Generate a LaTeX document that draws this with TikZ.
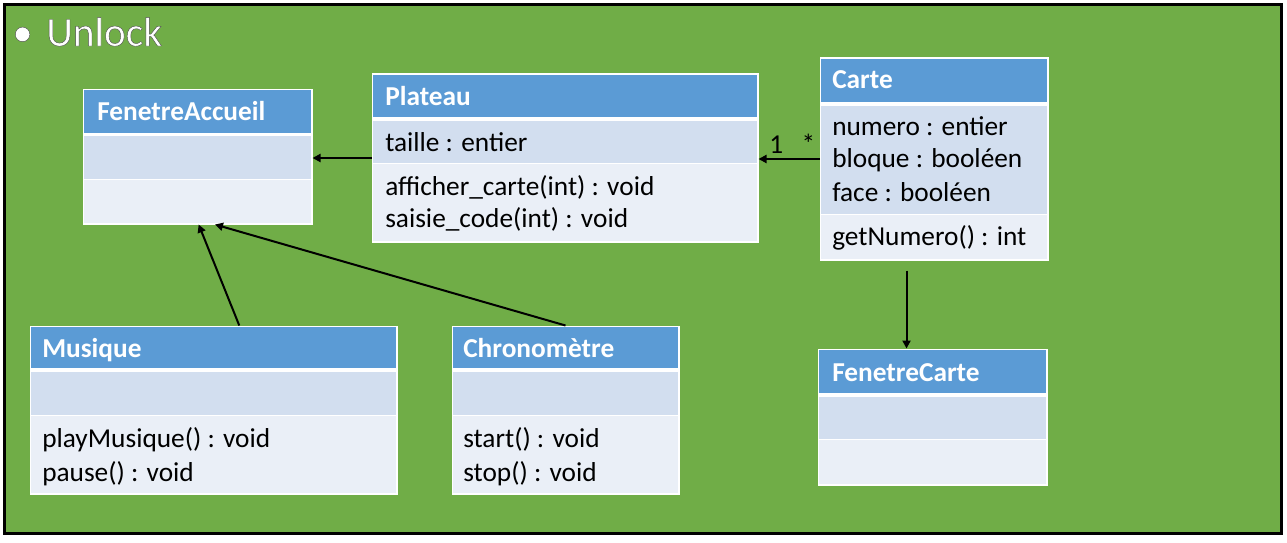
\documentclass[tikz,border=0pt]{standalone}
\usepackage{fontspec}
\setmainfont{Carlito}
\usetikzlibrary{arrows.meta,calc,fit}

\definecolor{bggreen}{HTML}{70AD47}
\definecolor{headblue}{HTML}{5B9BD5}
\definecolor{attrblue}{HTML}{D2DEEF}
\definecolor{methblue}{HTML}{EAEFF7}

% white title letters with a thin grey outline
\newcommand{\outlined}[1]{{\special{pdf:literal direct 0.3 0.3 0.3 RG}\addfontfeature{FakeBold=1}#1}}

\tikzset{
    classbox/.style={draw=white, fill=white, line width=0.75pt, inner sep=0pt},
    headfill/.style={fill=headblue},
    attrfill/.style={fill=attrblue},
    methfill/.style={fill=methblue},
    membertxt/.style={anchor=base west, inner sep=0pt, font=\fontsize{20.5}{24}\selectfont},
    headtxt/.style={membertxt, text=white, font=\fontsize{20.5}{24}\selectfont\bfseries},
    multtxt/.style={font=\fontsize{20.5}{24}\selectfont},
    titletxt/.style={anchor=base west, inner sep=0pt, text=white, font=\fontsize{31}{36}\selectfont},
    assoc/.style={-{Triangle[length=6pt,width=6pt]}, line width=1.5pt},
}

\begin{document}
\begin{tikzpicture}[x=0.75pt, y=-0.75pt]

    \useasboundingbox (0,0) rectangle (1287,542);

    % frame
    \fill[white] (0,0) rectangle (1287,542);
    \draw[fill=bggreen, line width=2.25pt] (4.5,5) rectangle (1281.5,533.5);

    % title
    \node[titletxt] (bullet) at (12,46) {\outlined{\textbullet}};
    \node[titletxt] (title) at (46,46) {\outlined{Unlock}};


    % FenetreAccueil
    \node[classbox, fit={(83,89) (312,224)}] (fenetre_accueil) {};
    \fill[headfill] (84,90) rectangle (311,133);
    \fill[attrfill] (84,136) rectangle (311,179);
    \fill[methfill] (84,180) rectangle (311,223);
    \node[headtxt] (fenetre_accueil_name) at (97,120) {FenetreAccueil};


    % Plateau
    \node[classbox, fit={(372,74) (758,242)}] (plateau) {};
    \fill[headfill] (373,75) rectangle (757,117);
    \fill[attrfill] (373,121) rectangle (757,163);
    \fill[methfill] (373,164) rectangle (757,241);
    \node[headtxt] (plateau_name) at (385,105) {Plateau};
    \node[membertxt] (plateau_taille) at (385,151) {taille : entier};
    \node[membertxt] (plateau_afficher) at (385,195) {afficher\_carte(int) : void};
    \node[membertxt] (plateau_saisie) at (385,227) {saisie\_code(int) : void};


    % Carte
    \node[classbox, fit={(820,58) (1048,260)}] (carte) {};
    \fill[headfill] (821,59) rectangle (1047,102);
    \fill[attrfill] (821,106) rectangle (1047,214);
    \fill[methfill] (821,215) rectangle (1047,259);
    \node[headtxt] (carte_name) at (832,89) {Carte};
    \node[membertxt] (carte_numero) at (832,135) {numero : entier};
    \node[membertxt] (carte_bloque) at (832,167) {bloque : booléen};
    \node[membertxt] (carte_face) at (832,201) {face : booléen};
    \node[membertxt] (carte_get) at (832,245) {getNumero() : int};


    % FenetreCarte
    \node[classbox, fit={(818,349) (1047,485)}] (fenetre_carte) {};
    \fill[headfill] (819,350) rectangle (1046,393);
    \fill[attrfill] (819,397) rectangle (1046,439);
    \fill[methfill] (819,440) rectangle (1046,484);
    \node[headtxt] (fenetre_carte_name) at (832,381) {FenetreCarte};


    % Musique
    \node[classbox, fit={(30,326) (397,494)}] (musique) {};
    \fill[headfill] (31,327) rectangle (396,368);
    \fill[attrfill] (31,372) rectangle (396,415);
    \fill[methfill] (31,416) rectangle (396,493);
    \node[headtxt] (musique_name) at (42,357) {Musique};
    \node[membertxt] (musique_play) at (42,447) {playMusique() : void};
    \node[membertxt] (musique_pause) at (42,481) {pause() : void};


    % Chronometre
    \node[classbox, fit={(452,326) (679,494)}] (chrono) {};
    \fill[headfill] (453,327) rectangle (678,368);
    \fill[attrfill] (453,372) rectangle (678,415);
    \fill[methfill] (453,416) rectangle (678,493);
    \node[headtxt] (chrono_name) at (463,357) {Chronomètre};
    \node[membertxt] (chrono_start) at (463,447) {start() : void};
    \node[membertxt] (chrono_stop) at (463,481) {stop() : void};


    % plateau -> fenetre accueil
    \draw[assoc]
        (plateau.west) --
        (plateau.west -| fenetre_accueil.east);

    % carte -> plateau
    \draw[assoc]
        (carte.west) --
        (carte.west -| plateau.east)
        node[multtxt, pos=0.18, above] (mult_many) {*}
        node[multtxt, pos=0.71, above] (mult_one) {1};

    % musique, chrono -> fenetre accueil
    \draw[assoc]
        ($(musique.north west)!0.57!(musique.north east)$) --
        ($(fenetre_accueil.south west)!0.505!(fenetre_accueil.south east)$);
    \draw[assoc]
        (chrono.north) --
        ($(fenetre_accueil.south west)!0.576!(fenetre_accueil.south east)$);

    % carte -> fenetre carte
    \coordinate (carte_out) at ($(carte.south west)!0.38!(carte.south east)+(0,10)$);
    \draw[assoc]
        (carte_out) --
        (carte_out |- fenetre_carte.north);

\end{tikzpicture}
\end{document}
